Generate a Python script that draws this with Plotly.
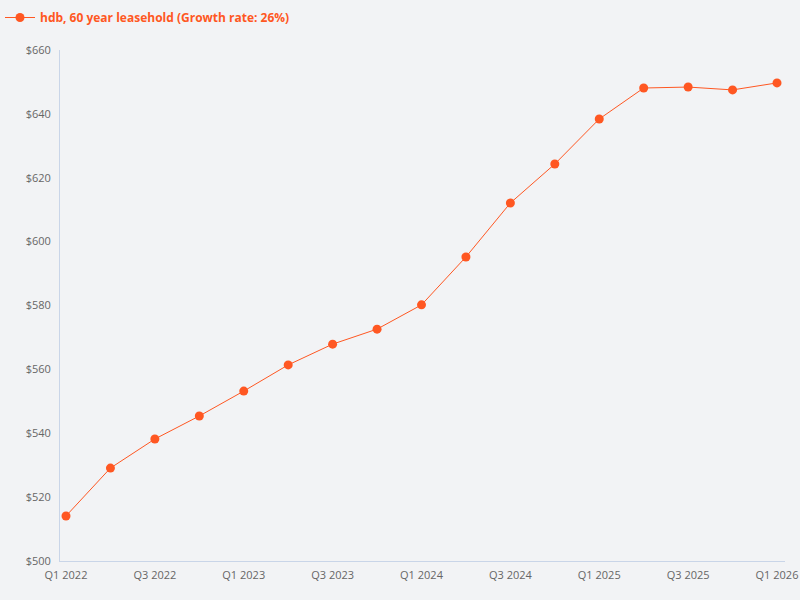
import plotly.graph_objects as go

quarters = ["Q1 2022", "Q2 2022", "Q3 2022", "Q4 2022",
            "Q1 2023", "Q2 2023", "Q3 2023", "Q4 2023",
            "Q1 2024", "Q2 2024", "Q3 2024", "Q4 2024",
            "Q1 2025", "Q2 2025", "Q3 2025", "Q4 2025",
            "Q1 2026"]
prices = [514.1, 529.1, 538.2, 545.4,
          553.2, 561.4, 567.9, 572.6,
          580.2, 595.2, 612.1, 624.3,
          638.4, 648.1, 648.4, 647.5,
          649.7]
shown_ticks = quarters[::2]
series_name = "hdb, 60 year leasehold (Growth rate: 26%)"

orange = "#ff5722"
fig = go.Figure()
fig.add_trace(go.Scatter(x=quarters, y=prices, mode="lines+markers", name=series_name,
                         line=dict(color=orange, width=1),
                         marker=dict(color=orange, size=9)))

fig.update_layout(
    width=800, height=600,
    paper_bgcolor="#f2f3f5", plot_bgcolor="#f2f3f5",
    font=dict(family="Open Sans", size=11, color="#666666"),
    margin=dict(l=60, r=15, t=50, b=39),
    showlegend=True,
    legend=dict(x=-0.0952, y=0.995, xref="paper", yref="container", xanchor="left", yanchor="top",
                orientation="h", bgcolor="rgba(0,0,0,0)",
                font=dict(size=12, color=orange, family="Open Sans", weight="bold"),
                itemwidth=30),
)
fig.update_xaxes(type="category", range=[-0.135, 16.18], tickvals=shown_ticks, automargin=False,
                 showgrid=False, zeroline=False, showline=True, linecolor="#c9d5e8",
                 ticks="", ticklabelstandoff=4)
fig.update_yaxes(range=[500, 660], dtick=20, tickprefix="$", showgrid=False, zeroline=False,
                 automargin=False, showline=True, linecolor="#c9d5e8", ticks="", ticklabelstandoff=6)

# page body has an 8px default margin; drop it so the chart fills the window
fig.write_html("out.html", config={"displayModeBar": False},
               post_script="document.body.style.margin='0';")
